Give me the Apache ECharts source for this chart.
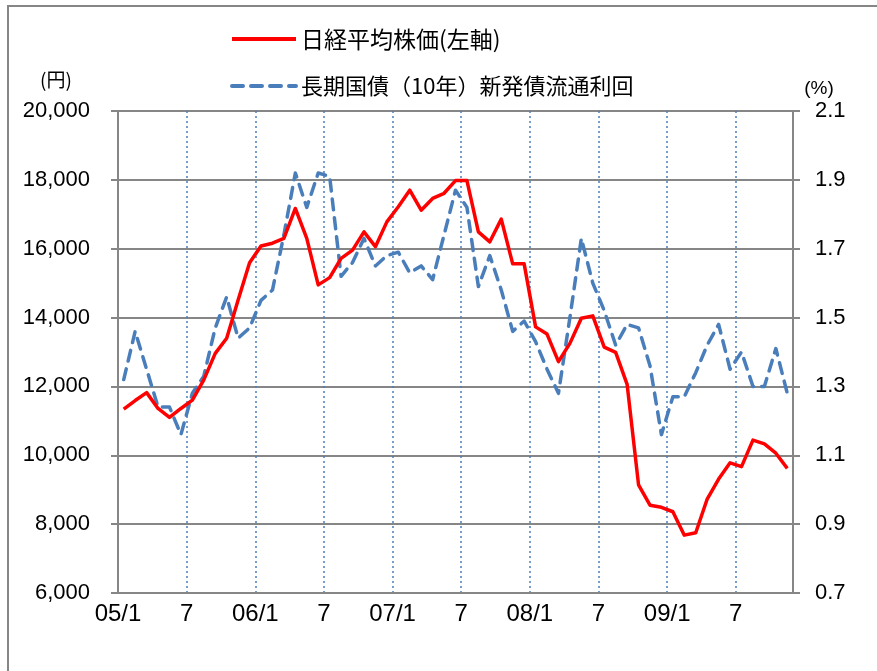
<!DOCTYPE html>
<html>
<head>
<meta charset="utf-8">
<script src="https://cdn.jsdelivr.net/npm/echarts@6/dist/echarts.min.js"></script>
<style>
html,body{margin:0;padding:0;background:#fff;}
#chart{width:877px;height:671px;}
</style>
</head>
<body>
<div id="chart"></div>
<script>
// Months 2005/01 .. 2009/11
const months = [];
for (let y = 5; y <= 9; y++) for (let m = 1; m <= 12; m++) { if (y === 9 && m > 11) break; months.push('0' + y + '/' + m); }

// Tick labels every 6 months
const xLabels = ['05/1','7','06/1','7','07/1','7','08/1','7','09/1','7'];

// Nikkei 225 (yen), left axis
const nikkei = [11340,11590,11820,11360,11100,11360,11600,12190,12960,13400,14510,15590,
                16080,16160,16300,17170,16300,14950,15160,15720,15960,16490,16060,16780,
                17220,17700,17120,17460,17610,17980,17980,16490,16200,16860,15560,15560,
                13730,13520,12720,13250,13980,14050,13140,12990,12060,9140,8550,8490,
                8360,7680,7750,8730,9310,9780,9670,10440,10330,10060,9620];

// 10-year JGB yield (%), right axis
const jgb = [1.32,1.46,1.35,1.24,1.24,1.16,1.28,1.33,1.47,1.56,1.44,1.47,
             1.55,1.58,1.74,1.92,1.82,1.92,1.91,1.62,1.66,1.73,1.65,1.68,
             1.69,1.63,1.65,1.61,1.74,1.87,1.82,1.59,1.68,1.58,1.46,1.49,
             1.43,1.35,1.28,1.50,1.73,1.60,1.52,1.42,1.48,1.47,1.36,1.16,
             1.27,1.27,1.34,1.42,1.48,1.35,1.40,1.30,1.30,1.41,1.28];

const seriesNames = ['日経平均株価(左軸)', '長期国債（10年）新発債流通利回'];

const latin = '"Liberation Sans",sans-serif';
const cjk = '"Noto Sans CJK JP","Noto Sans CJK SC",sans-serif';
const gray = '#868686';
const red = '#FF0000';
const blue = '#4A7EBB';
const hidden = {color: 'rgba(0,0,0,0)', borderColor: 'rgba(0,0,0,0)', borderWidth: 0, opacity: 0};

const chart = echarts.init(document.getElementById('chart'), null, {renderer: 'canvas'});
chart.setOption({
  animation: false,
  backgroundColor: '#fff',
  grid: {left: 118, right: 84, top: 111, bottom: 78, containLabel: false},
  legend: {
    orient: 'vertical',
    left: 225,
    top: 21,
    itemWidth: 64,
    itemHeight: 14,
    itemGap: 21,
    itemStyle: hidden,
    lineStyle: {width: 4},
    data: [
      {name: seriesNames[0], textStyle: {fontSize: 23}, itemStyle: hidden},
      {name: seriesNames[1], textStyle: {fontSize: 22}, itemStyle: hidden}
    ],
    textStyle: {fontFamily: cjk, color: '#000', lineHeight: 26}
  },
  graphic: [
    {type: 'rect', shape: {x: 8, y: 6, width: 1000, height: 1000}, style: {fill: 'none', stroke: gray, lineWidth: 2}, silent: true, z: -1},
    {type: 'text', x: 56, y: 80, style: {text: '(円)', font: '19px ' + cjk, fill: '#000', textAlign: 'center', textVerticalAlign: 'middle'}},
    {type: 'text', x: 819, y: 89, style: {text: '(%)', font: '19px ' + latin, fill: '#000', textAlign: 'center', textVerticalAlign: 'middle'}}
  ],
  xAxis: {
    type: 'value',
    min: 0,
    max: months.length,
    interval: 6,
    axisLine: {show: true, onZero: false, lineStyle: {color: gray, width: 2}},
    axisTick: {show: false},
    axisLabel: {
      margin: 9,
      fontSize: 24,
      fontFamily: latin,
      color: '#000',
      formatter: v => (v % 6 === 0 && v / 6 < xLabels.length) ? xLabels[v / 6] : ''
    },
    splitLine: {show: true, showMinLine: false, showMaxLine: false,
      lineStyle: {color: blue, width: 1.5, type: [2, 3]}}
  },
  yAxis: [
    {
      type: 'value', position: 'left', min: 6000, max: 20000, interval: 2000,
      axisLine: {show: true, lineStyle: {color: gray, width: 2}},
      axisTick: {show: true, inside: false, length: 7, lineStyle: {color: gray, width: 2}},
      axisLabel: {margin: 28, fontSize: 22, fontFamily: latin, color: '#000',
        formatter: v => v.toLocaleString('en-US')},
      splitLine: {show: true, lineStyle: {color: gray, width: 2}}
    },
    {
      type: 'value', position: 'right', min: 0.7, max: 2.1, interval: 0.2,
      axisLine: {show: true, lineStyle: {color: gray, width: 2}},
      axisTick: {show: true, inside: false, length: 7, lineStyle: {color: gray, width: 2}},
      axisLabel: {margin: 22, fontSize: 22, fontFamily: latin, color: '#000',
        formatter: v => v.toFixed(1)},
      splitLine: {show: false}
    }
  ],
  series: [
    {
      name: seriesNames[0], type: 'line', yAxisIndex: 0,
      data: nikkei.map((v, i) => [i + 0.5, v]),
      symbol: 'none', z: 3,
      lineStyle: {color: red, width: 3.5, join: 'round'},
      itemStyle: {color: red}
    },
    {
      name: seriesNames[1], type: 'line', yAxisIndex: 1,
      data: jgb.map((v, i) => [i + 0.5, v]),
      symbol: 'none', z: 2,
      lineStyle: {color: blue, width: 3.5, type: [11, 8], cap: 'round', join: 'round'},
      itemStyle: {color: blue}
    }
  ]
});
</script>
</body>
</html>
